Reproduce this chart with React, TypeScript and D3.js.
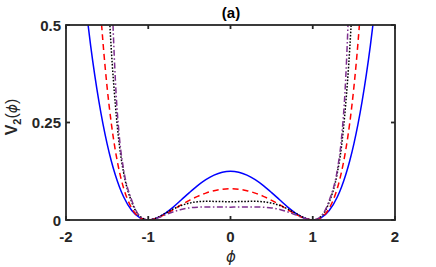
import React from 'react';
import * as d3 from 'd3';

// phi grid (same for every curve)
const phi = [
  -1.8, -1.75, -1.7, -1.6, -1.55, -1.5, -1.45, -1.4, -1.35, -1.3, -1.2, -1.1, -1,
  -0.9, -0.8, -0.7, -0.6, -0.5, -0.4, -0.3, -0.2, -0.1, 0,
  0.1, 0.2, 0.3, 0.4, 0.5, 0.6, 0.7, 0.8, 0.9,
  1, 1.1, 1.2, 1.3, 1.35, 1.4, 1.45, 1.5, 1.55, 1.6, 1.7, 1.75, 1.8,
];

// V2(phi)
const vBlue = [
  0.6272, 0.5318, 0.4465, 0.3042, 0.2459, 0.1953, 0.1519, 0.1152, 0.0846, 0.0595, 0.0242, 0.0055, 0,
  0.0045, 0.0162, 0.0325, 0.0512, 0.0703, 0.0882, 0.1035, 0.1152, 0.1225, 0.125,
  0.1225, 0.1152, 0.1035, 0.0882, 0.0703, 0.0512, 0.0325, 0.0162, 0.0045,
  0, 0.0055, 0.0242, 0.0595, 0.0846, 0.1152, 0.1519, 0.1953, 0.2459, 0.3042, 0.4465, 0.5318, 0.6272,
];
const vRed = [
  1.45, 1.2, 0.992, 0.5977, 0.4546, 0.34, 0.2492, 0.1782, 0.1235, 0.0822, 0.03, 0.0062, 0,
  0.0042, 0.0139, 0.026, 0.0386, 0.0504, 0.0607, 0.069, 0.0751, 0.0788, 0.08,
  0.0788, 0.0751, 0.069, 0.0607, 0.0504, 0.0386, 0.026, 0.0139, 0.0042,
  0, 0.0062, 0.03, 0.0822, 0.1235, 0.1782, 0.2492, 0.34, 0.4546, 0.5977, 0.992, 1.2, 1.45,
];
const vBlack = [
  3.0, 2.4, 1.9, 1.2, 0.9, 0.64, 0.44, 0.296, 0.19, 0.122, 0.0457, 0.0089, 0,
  0.0053, 0.0162, 0.0277, 0.0371, 0.0434, 0.0467, 0.0479, 0.0477, 0.0472, 0.047,
  0.0472, 0.0477, 0.0479, 0.0467, 0.0434, 0.0371, 0.0277, 0.0162, 0.0053,
  0, 0.0089, 0.0457, 0.122, 0.19, 0.296, 0.44, 0.64, 0.9, 1.2, 1.9, 2.4, 3.0,
];
const vPurple = [
  8, 6.5, 5, 2.8, 1.8, 1.1, 0.64, 0.36, 0.21, 0.13, 0.05, 0.0095, 0,
  0.0043, 0.0125, 0.0205, 0.027, 0.031, 0.0328, 0.0334, 0.0334, 0.0332, 0.033,
  0.0332, 0.0334, 0.0334, 0.0328, 0.031, 0.027, 0.0205, 0.0125, 0.0043,
  0, 0.0095, 0.05, 0.13, 0.21, 0.36, 0.64, 1.1, 1.8, 2.8, 5, 6.5, 8,
];

const xTicks = [-2, -1, 0, 1, 2];
const yTicks = [0, 0.25, 0.5];
const yTickLabels = ['0', '0.25', '0.5'];

const series = [
  { values: vBlue, color: '#0000ff', dash: null },
  { values: vRed, color: '#ff0000', dash: '6,4' },
  { values: vBlack, color: '#000000', dash: '1.6,1.6' },
  { values: vPurple, color: '#7e2f8e', dash: '6,2.5,1.5,2.5' },
];

const W = 436;
const H = 267;
const left = 66;
const right = 395;
const top = 25;
const bottom = 220;
const axisColor = '#262626';
const font = '"Liberation Sans", Arial, Helvetica, sans-serif';
const greek = '"DejaVu Sans", sans-serif';

export default function App() {
  const x = d3.scaleLinear().domain([-2, 2]).range([left, right]);
  const y = d3.scaleLinear().domain([0, 0.5]).range([bottom, top]);

  const line = d3
    .line<[number, number]>()
    .x(d => x(d[0]))
    .y(d => y(d[1]))
    .curve(d3.curveMonotoneX);

  return (
    <svg
      width={W}
      height={H}
      style={{ position: 'absolute', left: 0, top: 0, background: '#fff' }}
    >
      <defs>
        <clipPath id="plot">
          <rect x={left} y={top} width={right - left} height={bottom - top} />
        </clipPath>
      </defs>

      <g clipPath="url(#plot)">
        {series.map((s, i) => (
          <path
            key={i}
            d={line(phi.map((p, j) => [p, s.values[j]] as [number, number])) || ''}
            fill="none"
            stroke={s.color}
            strokeWidth={1.5}
            strokeDasharray={s.dash || undefined}
          />
        ))}
      </g>

      {/* frame */}
      <rect
        x={left}
        y={top}
        width={right - left}
        height={bottom - top}
        fill="none"
        stroke={axisColor}
        strokeWidth={1.8}
      />

      {/* ticks (inward, mirrored) */}
      {xTicks.map(t => (
        <g key={'xt' + t}>
          <line x1={x(t)} x2={x(t)} y1={bottom} y2={bottom - 4} stroke={axisColor} strokeWidth={1.8} />
          <line x1={x(t)} x2={x(t)} y1={top} y2={top + 4} stroke={axisColor} strokeWidth={1.8} />
          <text
            x={x(t)}
            y={242}
            textAnchor="middle"
            fontFamily={font}
            fontWeight="bold"
            fontSize={15}
            fill={axisColor}
          >
            {t}
          </text>
        </g>
      ))}
      {yTicks.map((t, i) => (
        <g key={'yt' + t}>
          <line x1={left} x2={left + 4} y1={y(t)} y2={y(t)} stroke={axisColor} strokeWidth={1.8} />
          <line x1={right} x2={right - 4} y1={y(t)} y2={y(t)} stroke={axisColor} strokeWidth={1.8} />
          <text
            x={61}
            y={y(t) + 5.5}
            textAnchor="end"
            fontFamily={font}
            fontWeight="bold"
            fontSize={15}
            fill={axisColor}
          >
            {yTickLabels[i]}
          </text>
        </g>
      ))}

      {/* title */}
      <text
        x={231}
        y={18}
        textAnchor="middle"
        fontFamily={font}
        fontWeight="bold"
        fontSize={15}
        fill="#000"
      >
        (a)
      </text>

      {/* x label */}
      <text
        x={231}
        y={262}
        textAnchor="middle"
        fontFamily={greek}
        fontStyle="italic"
        fontSize={15}
        fill={axisColor}
      >
        ϕ
      </text>

      {/* y label */}
      <text
        transform="translate(17, 117) rotate(-90)"
        textAnchor="middle"
        fontFamily={font}
        fontWeight="bold"
        fontSize={16}
        fill={axisColor}
      >
        V
        <tspan fontSize={11} dy={4}>2</tspan>
        <tspan dy={-4} fontWeight="normal">(</tspan>
        <tspan fontWeight="normal" fontStyle="italic" fontFamily={greek} fontSize={14}>ϕ</tspan>
        <tspan fontWeight="normal">)</tspan>
      </text>
    </svg>
  );
}
